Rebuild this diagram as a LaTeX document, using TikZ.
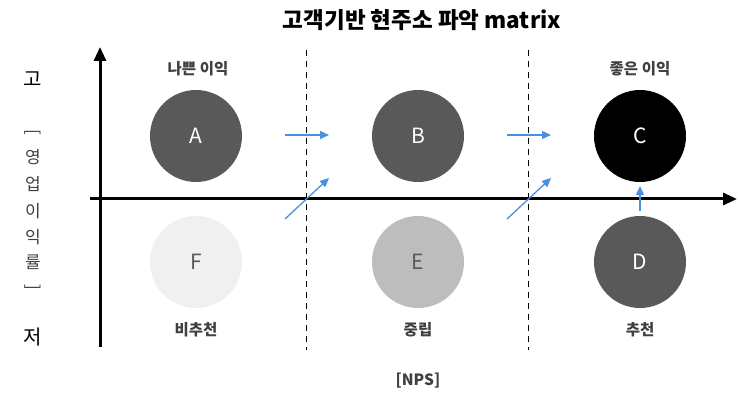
\documentclass[tikz,border=0pt]{standalone}
\usepackage{fontspec}
\setmainfont{Noto Sans CJK KR}
\usetikzlibrary{arrows.meta}
\definecolor{blueflow}{HTML}{4A90E2}

\begin{document}
\begin{tikzpicture}[x=1pt,y=-1pt,
  seg/.style={circle,minimum size=92pt,inner sep=0pt,font=\fontsize{21}{24}\selectfont},
  tag/.style={font=\fontsize{15.5}{18}\selectfont\bfseries,text=black!75},
  ylab/.style={font=\fontsize{17}{19}\selectfont,text=black!75},
  axis/.style={line width=3pt,-{Triangle[length=14pt,width=12pt]}},
  divider/.style={line width=1pt,dash pattern=on 6pt off 5pt},
  move/.style={draw=blueflow,line width=1.3pt,-{Triangle[length=9pt,width=8pt]}}]
\useasboundingbox (0,0) rectangle (738,395);
% title
\node[font=\fontsize{22.5}{26}\selectfont\bfseries] (title) at (422,20) {고객기반 현주소 파악 matrix};
% axes
\coordinate (ybot) at (100,347);
\coordinate (ytop) at (100,47);
\coordinate (xleft) at (90,199);
\coordinate (xright) at (737,199);
\draw[axis] (ybot) -- (ytop);
\draw[axis] (xleft) -- (xright);
% dividers
\coordinate (d1top) at (306,50);
\coordinate (d1bot) at (306,350);
\coordinate (d2top) at (528,50);
\coordinate (d2bot) at (528,350);
\draw[divider] (d1top) -- (d1bot);
\draw[divider] (d2top) -- (d2bot);
% circles
\node[seg,fill=black!65,text=white] (A) at (196,136) {A};
\node[seg,fill=black!65,text=white] (B) at (418,136) {B};
\node[seg,fill=black,text=white] (C) at (640,136) {C};
\node[seg,fill=black!6,text=black!65] (F) at (196,262) {F};
\node[seg,fill=black!26,text=black!65] (E) at (418,262) {E};
\node[seg,fill=black!65,text=white] (D) at (640,262) {D};
% labels
\node[tag] (bad) at (198,69) {나쁜 이익};
\node[tag] (good) at (640,69) {좋은 이익};
\node[tag] (detract) at (196,330) {비추천};
\node[tag] (passive) at (418,330) {중립};
\node[tag] (promote) at (640,330) {추천};
\node[tag] (nps) at (418,381) {[NPS]};
% vertical axis title
\node[font=\fontsize{20}{22}\selectfont] (high) at (33,79) {고};
\node[font=\fontsize{20}{22}\selectfont] (low) at (33,337) {저};
\node[ylab,rotate=-90] (lb) at (33,132) {[};
\node[ylab] (y1) at (33,157) {영};
\node[ylab] (y2) at (33,184) {업};
\node[ylab] (y3) at (33,211) {이};
\node[ylab] (y4) at (33,237) {익};
\node[ylab] (y5) at (33,262) {률};
\node[ylab,rotate=-90] (rb) at (33,287) {]};
% movements
\coordinate (m1s) at (285,135);
\coordinate (m1e) at (329,135);
\coordinate (m2s) at (285,219);
\coordinate (m2e) at (329,178);
\coordinate (m3s) at (507,135);
\coordinate (m3e) at (551,135);
\coordinate (m4s) at (507,219);
\coordinate (m4e) at (551,178);
\coordinate (m5s) at (640,211);
\coordinate (m5e) at (640,186);
\draw[move] (m1s) -- (m1e);
\draw[move] (m2s) -- (m2e);
\draw[move] (m3s) -- (m3e);
\draw[move] (m4s) -- (m4e);
\draw[move] (m5s) -- (m5e);
\end{tikzpicture}
\end{document}
